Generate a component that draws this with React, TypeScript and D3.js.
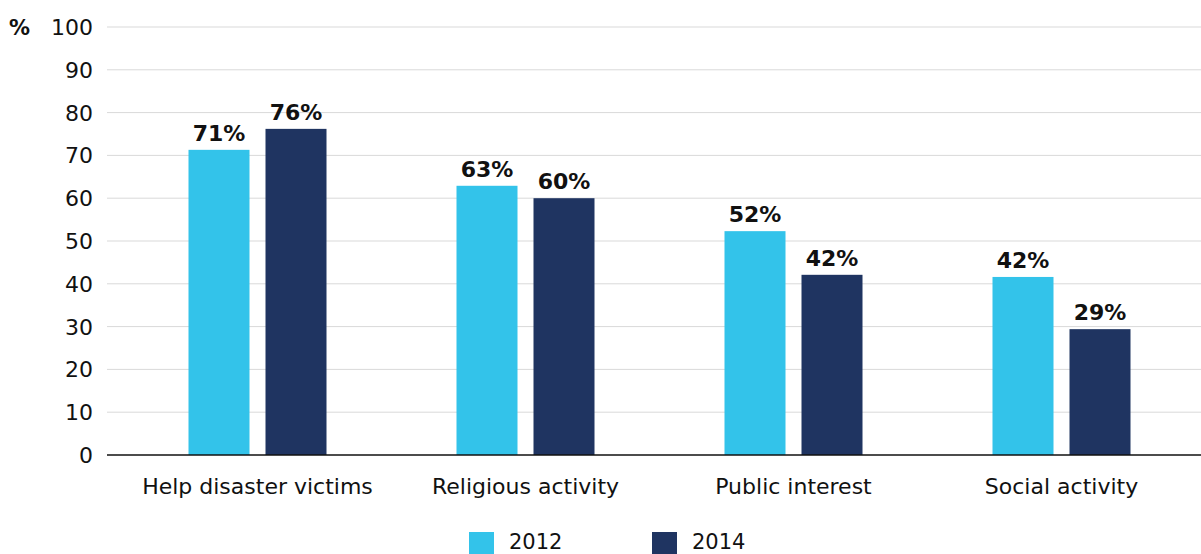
import React from "react";
import * as d3 from "d3";

const categories = ["Help disaster victims", "Religious activity", "Public interest", "Social activity"];
const years = ["2012", "2014"];
const values2012 = [71.3, 62.9, 52.3, 41.6];
const values2014 = [76.2, 60.0, 42.1, 29.4];
const labels2012 = ["71%", "63%", "52%", "42%"];
const labels2014 = ["76%", "60%", "42%", "29%"];
const yTicks = [0, 10, 20, 30, 40, 50, 60, 70, 80, 90, 100];
const colors = ["#33C3EA", "#1F3461"];

const W = 1201;
const H = 554;
const FONT = "'DejaVu Sans', sans-serif";

export default function App() {
  const x = d3.scaleBand<string>().domain(categories).range([123.5, 1195.5]).padding(0);
  const y = d3.scaleLinear().domain([0, 100]).range([455, 27]);
  const barW = 61;
  const gap = 16;
  const series = [values2012, values2014];
  const labels = [labels2012, labels2014];

  return (
    <svg width={W} height={H} style={{ position: "absolute", left: 0, top: 0 }} fontFamily={FONT}>
      <rect x={0} y={0} width={W} height={H} fill="#fff" />
      {yTicks.map((t) => (
        <g key={t}>
          {t > 0 && <line x1={107} x2={W} y1={y(t)} y2={y(t)} stroke="#d9d9d9" strokeWidth={1} />}
          <text x={93} y={y(t)} dy="0.36em" textAnchor="end" fontSize={22} fill="#111">
            {t}
          </text>
        </g>
      ))}
      <text x={9} y={y(100)} dy="0.36em" fontSize={21} fill="#111" fontWeight="bold">%</text>
      {categories.map((c, i) => {
        const cx = (x(c) as number) + x.bandwidth() / 2;
        return (
          <g key={c}>
            {series.map((s, j) => {
              const bx = j === 0 ? cx - gap / 2 - barW : cx + gap / 2;
              return (
                <g key={j}>
                  <rect x={bx} y={y(s[i])} width={barW} height={y(0) - y(s[i])} fill={colors[j]} />
                  <text x={bx + barW / 2} y={y(s[i]) - 9} textAnchor="middle" fontSize={22} fontWeight="bold" fill="#111">
                    {labels[j][i]}
                  </text>
                </g>
              );
            })}
            <text x={cx} y={494} textAnchor="middle" fontSize={22} fill="#111">{c}</text>
          </g>
        );
      })}
      <line x1={107} x2={W} y1={y(0)} y2={y(0)} stroke="#111" strokeWidth={1.5} />
      {years.map((yr, j) => {
        const lx = j === 0 ? 469 : 652;
        return (
          <g key={yr}>
            <rect x={lx} y={532} width={25} height={24} fill={colors[j]} />
            <text x={lx + 40} y={549} fontSize={21} fill="#111">{yr}</text>
          </g>
        );
      })}
    </svg>
  );
}
